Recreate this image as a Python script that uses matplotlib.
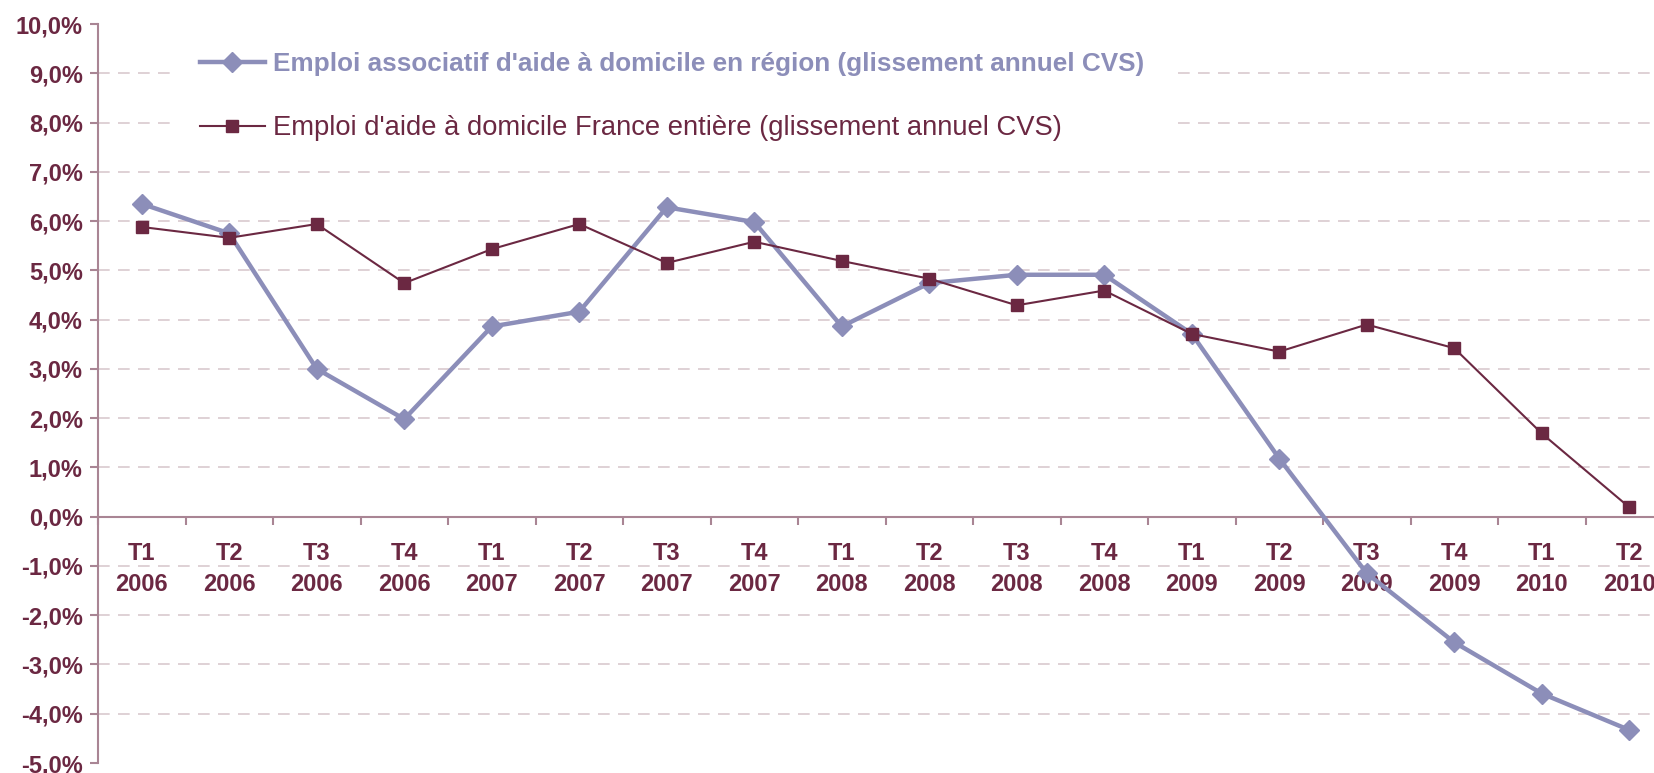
import matplotlib.pyplot as plt
from matplotlib.ticker import FixedLocator, FuncFormatter, NullFormatter

plt.rcParams['font.family'] = ['Liberation Sans', 'DejaVu Sans']

quarters = ['T1', 'T2', 'T3', 'T4', 'T1', 'T2', 'T3', 'T4', 'T1', 'T2',
            'T3', 'T4', 'T1', 'T2', 'T3', 'T4', 'T1', 'T2']
years = ['2006', '2006', '2006', '2006', '2007', '2007', '2007', '2007',
         '2008', '2008', '2008', '2008', '2009', '2009', '2009', '2009',
         '2010', '2010']

# glissement annuel CVS, en %
region_assoc = [6.35, 5.75, 3.0, 1.98, 3.86, 4.16, 6.28, 5.98, 3.86, 4.74,
                4.91, 4.91, 3.71, 1.18, -1.15, -2.55, -3.59, -4.33]
france = [5.88, 5.66, 5.94, 4.74, 5.43, 5.94, 5.15, 5.58, 5.19, 4.83,
          4.29, 4.59, 3.71, 3.35, 3.90, 3.42, 1.69, 0.19]

label_region = "Emploi associatif d'aide à domicile en région (glissement annuel CVS)"
label_france = "Emploi d'aide à domicile France entière (glissement annuel CVS)"

lavender = '#8C8EB9'
maroon = '#6B2842'
grid_col = '#D9C9CE'
spine_col = '#A98594'

fig = plt.figure(figsize=(16.54, 7.73), dpi=100)
# the plot area runs a bit past the right edge, as in the original
ax = fig.add_axes([98 / 1654, 1 - 763 / 773, 1575 / 1654, 739 / 773])

x = [i + 0.5 for i in range(len(quarters))]
ax.set_xlim(0, len(quarters))
ax.set_ylim(-5, 10)

for v in range(-4, 10):
    if v != 0:
        ax.axhline(v, color=grid_col, lw=1.2, dashes=(7, 5), zorder=0)

ax.plot(x, region_assoc, color=lavender, lw=3.2, marker='D', ms=10,
        label=label_region, zorder=3)
ax.plot(x, france, color=maroon, lw=1.5, marker='s', ms=8.5,
        label=label_france, zorder=4)

for s in ['top', 'right']:
    ax.spines[s].set_visible(False)
ax.spines['left'].set_color(spine_col)
ax.spines['left'].set_linewidth(1.5)
ax.spines['bottom'].set_position(('data', 0))
ax.spines['bottom'].set_color(spine_col)
ax.spines['bottom'].set_linewidth(1.5)

ax.yaxis.set_major_locator(FixedLocator(range(-5, 11)))
ax.yaxis.set_major_formatter(FuncFormatter(lambda v, p: f"{v:.1f}%".replace('.', ',')))
ax.tick_params(axis='y', colors=spine_col, length=6, width=1.5, pad=5)
for t in ax.get_yticklabels():
    t.set_color(maroon)
    t.set_fontsize(17)
    t.set_fontweight('bold')

ax.xaxis.set_major_locator(FixedLocator(range(len(quarters) + 1)))
ax.xaxis.set_major_formatter(NullFormatter())
ax.xaxis.set_minor_locator(FixedLocator(x))
ax.set_xticklabels([f"{q}\n{y}" for q, y in zip(quarters, years)], minor=True)
ax.tick_params(axis='x', which='major', colors=spine_col, length=6, width=1.5,
               direction='out')
ax.tick_params(axis='x', which='minor', length=0, pad=18)
for t in ax.get_xticklabels(minor=True):
    t.set_color(maroon)
    t.set_fontsize(17)
    t.set_fontweight('bold')
    t.set_linespacing(1.45)

leg = ax.legend(loc='upper left', bbox_to_anchor=(0.048, 0.998),
                frameon=True, facecolor='white', edgecolor='none', framealpha=1,
                fancybox=False, fontsize=19, borderpad=1.0, borderaxespad=0,
                handlelength=2.45, handletextpad=0.3, labelspacing=1.49,
                labelcolor=[lavender, maroon])
leg.get_texts()[0].set_fontweight('bold')
leg.get_texts()[0].set_fontsize(18.8)
leg.get_texts()[1].set_fontsize(19.7)

fig.savefig('out.png', dpi=100)
